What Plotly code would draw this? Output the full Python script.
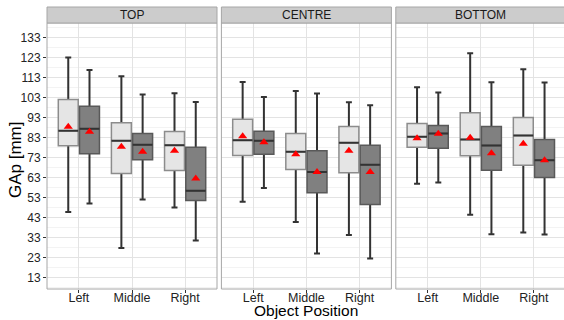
import plotly.graph_objects as go
from plotly.subplots import make_subplots

# ---------------- data ----------------
panels = ["TOP", "CENTRE", "BOTTOM"]
positions = ["Left", "Middle", "Right"]
y_ticks = [13, 23, 33, 43, 53, 63, 73, 83, 93, 103, 113, 123, 133]

# light series (per panel: Left, Middle, Right)
light_upper = {"TOP": [123.0, 113.7, 105.2], "CENTRE": [110.8, 106.3, 100.7], "BOTTOM": [108.2, 125.2, 117.2]}
light_q3 = {"TOP": [102.0, 90.4, 86.1], "CENTRE": [92.2, 85.1, 88.6], "BOTTOM": [90.1, 95.4, 93.1]}
light_median = {"TOP": [86.4, 81.4, 79.2], "CENTRE": [81.7, 75.9, 80.4], "BOTTOM": [83.4, 82.1, 84.0]}
light_q1 = {"TOP": [78.9, 65.1, 66.6], "CENTRE": [74.1, 67.1, 65.4], "BOTTOM": [78.2, 73.9, 69.2]}
light_lower = {"TOP": [45.8, 27.8, 48.1], "CENTRE": [50.9, 40.8, 34.3], "BOTTOM": [59.9, 44.4, 35.6]}
light_mean = {"TOP": [88.4, 78.4, 76.4], "CENTRE": [83.7, 74.7, 76.4], "BOTTOM": [82.7, 82.9, 79.9]}

# dark series
dark_upper = {"TOP": [116.8, 104.5, 100.8], "CENTRE": [103.3, 105.0, 99.2], "BOTTOM": [105.5, 110.7, 110.5]}
dark_q3 = {"TOP": [98.7, 85.1, 78.2], "CENTRE": [86.2, 76.4, 79.2], "BOTTOM": [89.1, 88.6, 82.1]}
dark_median = {"TOP": [87.4, 79.4, 56.4], "CENTRE": [81.4, 65.8, 69.4], "BOTTOM": [85.1, 79.1, 71.7]}
dark_q1 = {"TOP": [74.9, 71.9, 51.6], "CENTRE": [74.7, 55.4, 49.6], "BOTTOM": [77.7, 66.7, 63.1]}
dark_lower = {"TOP": [50.1, 52.1, 31.5], "CENTRE": [57.8, 25.0, 22.5], "BOTTOM": [60.6, 34.7, 34.5]}
dark_mean = {"TOP": [85.9, 75.9, 62.6], "CENTRE": [80.7, 65.8, 65.8], "BOTTOM": [84.9, 75.2, 71.7]}

# ---------------- styling ----------------
FONT = "Liberation Sans, Arial, sans-serif"
BOX_W = 0.375
OFFSET = 0.2
series = [
    dict(off=-OFFSET, upper=light_upper, q3=light_q3, med=light_median, q1=light_q1,
         lower=light_lower, mean=light_mean, fill="#e5e5e5", edge="#8c8c8c"),
    dict(off=OFFSET, upper=dark_upper, q3=dark_q3, med=dark_median, q1=dark_q1,
         lower=dark_lower, mean=dark_mean, fill="#808080", edge="#595959"),
]

fig = make_subplots(rows=1, cols=3, shared_yaxes=True, horizontal_spacing=0.01)

cat_idx = [i + 1 for i in range(len(positions))]

for c, panel in enumerate(panels, start=1):
    for s in series:
        xs = [i + s["off"] for i in cat_idx]
        # layer 1: whiskers (box collapsed to median)
        fig.add_trace(go.Box(
            x=xs, q1=s["med"][panel], median=s["med"][panel], q3=s["med"][panel],
            lowerfence=s["lower"][panel], upperfence=s["upper"][panel],
            width=BOX_W, whiskerwidth=0.3, fillcolor="rgba(0,0,0,0)",
            line=dict(color="#333333", width=2), boxpoints=False,
            hoverinfo="skip", showlegend=False), row=1, col=c)
        # layer 2: the box body
        fig.add_trace(go.Box(
            x=xs, q1=s["q1"][panel], median=s["med"][panel], q3=s["q3"][panel],
            lowerfence=s["q1"][panel], upperfence=s["q3"][panel],
            width=BOX_W, whiskerwidth=0, fillcolor=s["fill"],
            line=dict(color=s["edge"], width=1.5), boxpoints=False,
            hoverinfo="skip", showlegend=False), row=1, col=c)
        # layer 3: median line
        fig.add_trace(go.Box(
            x=xs, q1=s["med"][panel], median=s["med"][panel], q3=s["med"][panel],
            lowerfence=s["med"][panel], upperfence=s["med"][panel],
            width=BOX_W, whiskerwidth=0, fillcolor="rgba(0,0,0,0)",
            line=dict(color="#333333", width=2), boxpoints=False,
            hoverinfo="skip", showlegend=False), row=1, col=c)
        # mean markers
        fig.add_trace(go.Scatter(
            x=xs, y=s["mean"][panel], mode="markers",
            marker=dict(symbol="triangle-up", color="#ff0000", size=8, line=dict(width=0)),
            hoverinfo="skip", showlegend=False), row=1, col=c)

# ---------------- layout ----------------
plot_w = 564 - 47
pw = 170.0
gap = 4.4
domains = [
    [0.0, pw / plot_w],
    [(pw + gap) / plot_w, (2 * pw + gap) / plot_w],
    [(2 * pw + 2 * gap) / plot_w, 1.0],
]
px_per_unit = pw / 3.2
last_width_units = (plot_w - 2 * pw - 2 * gap) / px_per_unit

strip_h = 16.0 / 266.0

for c in range(1, 4):
    xa = "xaxis" if c == 1 else f"xaxis{c}"
    ya = "yaxis" if c == 1 else f"yaxis{c}"
    xr = [0.4, 3.6] if c < 3 else [0.4, 0.4 + last_width_units]
    fig.layout[xa].update(
        domain=domains[c - 1], range=xr, tickmode="array", tickvals=cat_idx,
        ticktext=positions, ticks="outside", ticklen=3, tickcolor="#333333",
        ticklabelstandoff=-6,
        showgrid=True, gridcolor="#e3e3e3", gridwidth=1, zeroline=False,
        showline=False, tickfont=dict(family=FONT, size=12.5, color="#222222"),
        fixedrange=True)
    fig.layout[ya].update(
        range=[7.3, 140.3], tickmode="array", tickvals=y_ticks,
        showgrid=True, gridcolor="#e3e3e3", gridwidth=1, zeroline=False,
        showline=False,
        minor=dict(dtick=5, tick0=8, showgrid=True, gridcolor="#f3f3f3", gridwidth=1),
        ticks="outside" if c == 1 else "", ticklen=3, tickcolor="#333333",
        showticklabels=(c == 1),
        tickfont=dict(family=FONT, size=12, color="#222222"), fixedrange=True)

    xdom = ("x" if c == 1 else f"x{c}") + " domain"
    ydom = ("y" if c == 1 else f"y{c}") + " domain"
    x1 = 1.0 if c < 3 else 1.05
    # panel border
    fig.add_shape(type="rect", xref=xdom, yref=ydom, x0=0, x1=x1, y0=0, y1=1,
                  line=dict(color="#a6a6a6", width=1), fillcolor="rgba(0,0,0,0)",
                  layer="above")
    # strip
    fig.add_shape(type="rect", xref=xdom, yref=ydom, x0=0, x1=x1, y0=1, y1=1 + strip_h,
                  line=dict(color="#a6a6a6", width=1), fillcolor="#cccccc",
                  layer="above")
    fig.add_annotation(xref=xdom, yref=ydom, x=0.5 if c < 3 else 0.5 * 3.2 / last_width_units,
                       y=1 + strip_h / 2, text=panels[c - 1], showarrow=False,
                       xanchor="center", yanchor="middle",
                       font=dict(family=FONT, size=12, color="#1a1a1a"))

fig.add_annotation(xref="paper", yref="paper", x=(306 - 47) / plot_w, y=-21 / 266,
                   text="Object Position", showarrow=False, xanchor="center",
                   yanchor="middle", font=dict(family=FONT, size=15.5, color="#000000"))
fig.add_annotation(xref="paper", yref="paper", x=(15 - 47) / plot_w, y=(289 - 160) / 266,
                   text="GAp [mm]", showarrow=False, textangle=-90, xanchor="center",
                   yanchor="middle", font=dict(family=FONT, size=17, color="#000000"))

fig.update_layout(
    width=564, height=320,
    margin=dict(l=47, r=0, t=23, b=31, pad=0),
    paper_bgcolor="white", plot_bgcolor="white",
    showlegend=False, hovermode=False, boxmode="overlay",
    font=dict(family=FONT),
)

fig.write_html("out.html")
